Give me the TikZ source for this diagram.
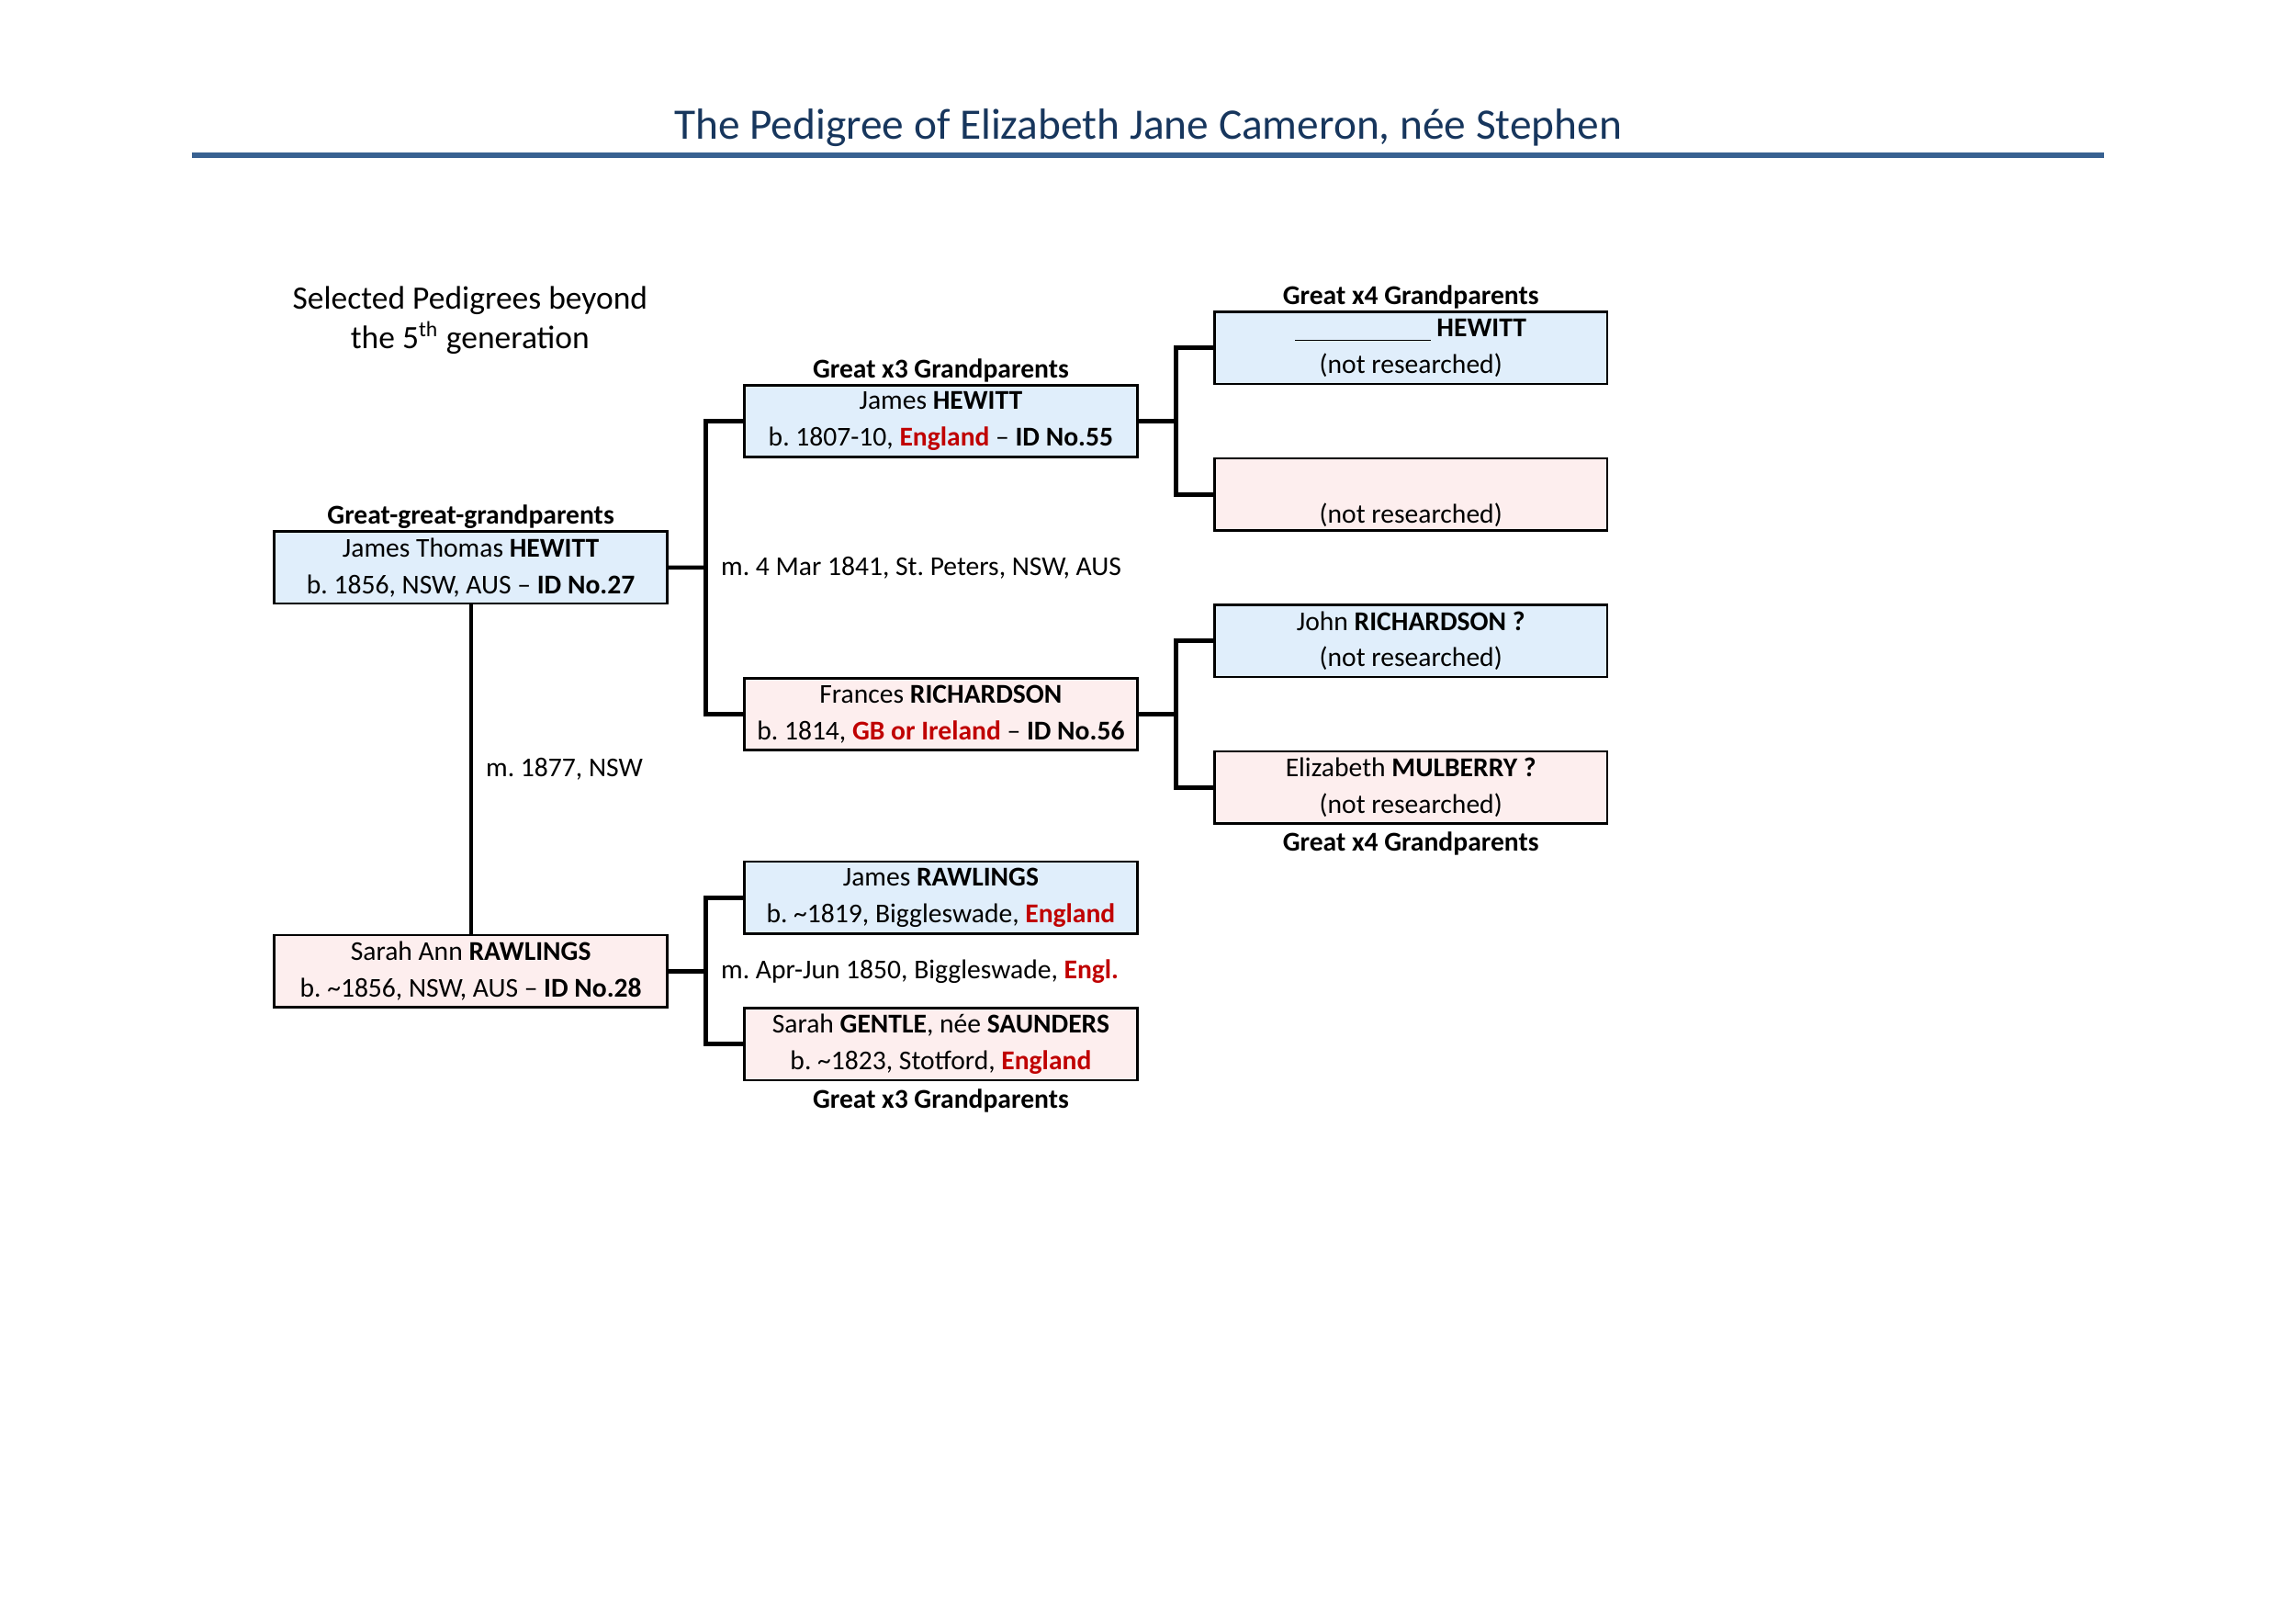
\documentclass[tikz,border=0pt]{standalone}
\usepackage{fontspec}
\setmainfont{Carlito}
\usepackage{tikz}
\usetikzlibrary{positioning,calc}
\definecolor{malefill}{RGB}{224,238,251}
\definecolor{femalefill}{RGB}{253,238,238}
\definecolor{placered}{RGB}{192,0,0}
\definecolor{titleblue}{RGB}{23,54,93}
\definecolor{ruleblue}{RGB}{56,97,145}
\newcommand{\surnm}[1]{\textbf{#1}}
\newcommand{\redplace}[1]{\textcolor{placered}{\textbf{#1}}}
\frenchspacing

\begin{document}
\begin{tikzpicture}[
  node distance=0.965cm and 1cm,
  person/.style={draw,line width=0.9pt,minimum width=5.08cm,minimum height=0.93cm,
                 outer sep=0pt,inner xsep=2pt,inner ysep=0pt,align=center,
                 font=\fontsize{10}{13.4}\selectfont},
  male/.style={person,fill=malefill},
  female/.style={person,fill=femalefill},
  gen/.style={font=\fontsize{10}{13.4}\selectfont\bfseries,inner sep=1pt},
  wed/.style={font=\fontsize{10}{13.4}\selectfont,anchor=west,inner sep=0pt},
  link/.style={line width=1.6pt}]
\useasboundingbox (0,0) rectangle (29.7,-21);
% heading
\node[font=\fontsize{16}{19}\selectfont,text=titleblue] (title) at (14.85,-1.65)
  {The Pedigree of Elizabeth Jane Cameron, née Stephen};
\draw[ruleblue,line width=2.2pt] (2.48,-2.01) -- (27.22,-2.01);
\node[align=center,font=\fontsize{12}{14.7}\selectfont] (intro) at (6.08,-4.14)
  {Selected Pedigrees beyond\\the 5\textsuperscript{th} generation};
% generation 5
\node[male] (jth) at (6.09,-7.34) {James Thomas \surnm{HEWITT}\\b. 1856, NSW, AUS -- \surnm{ID No.27}};
\node[female,below=4.29cm of jth] (sar) {Sarah Ann \surnm{RAWLINGS}\\b. \textasciitilde1856, NSW, AUS -- \surnm{ID No.28}};
% generation 6
\node[male,right=of jth,yshift=1.894cm] (jh) {James \surnm{HEWITT}\\b. 1807-10, \redplace{England} -- \surnm{ID No.55}};
\node[female,below=2.86cm of jh] (fr) {Frances \surnm{RICHARDSON}\\b. 1814, \redplace{GB or Ireland} -- \surnm{ID No.56}};
\node[male,right=of sar,yshift=0.95cm] (jr) {James \surnm{RAWLINGS}\\b. \textasciitilde1819, Biggleswade, \redplace{England}};
\node[female,below=of jr] (sg) {Sarah \surnm{GENTLE}, née \surnm{SAUNDERS}\\b. \textasciitilde1823, Stotford, \redplace{England}};
% generation 7
\node[male,right=of jh,yshift=0.947cm] (hw) {\underline{\hspace{1.75cm}} \surnm{HEWITT}\\(not researched)};
\node[female,below=of hw] (hwm) {\strut\\(not researched)};
\node[male,right=of fr,yshift=0.947cm] (jrs) {John \surnm{RICHARDSON ?}\\(not researched)};
\node[female,below=of jrs] (em) {Elizabeth \surnm{MULBERRY ?}\\(not researched)};
% generation labels
\node[gen,above=0pt of jth] (lbl5) {Great-great-grandparents};
\node[gen,above=0pt of jh] (lbl6a) {Great x3 Grandparents};
\node[gen,below=0.07cm of sg] (lbl6b) {Great x3 Grandparents};
\node[gen,above=0pt of hw] (lbl7a) {Great x4 Grandparents};
\node[gen,below=0.07cm of em] (lbl7b) {Great x4 Grandparents};
% brackets
\coordinate (k1) at ($(jth.east)!0.5!(jth.east -| jh.west)$);
\coordinate (k2) at ($(sar.east)!0.5!(sar.east -| jr.west)$);
\coordinate (k3) at ($(jh.east)!0.5!(jh.east -| hw.west)$);
\coordinate (k4) at ($(fr.east)!0.5!(fr.east -| jrs.west)$);
\draw[link] (jth.east) -- (k1);
\draw[link] (jh.west) -| (k1) |- (fr.west);
\draw[link] (sar.east) -- (k2);
\draw[link] (jr.west) -| (k2) |- (sg.west);
\draw[link] (jh.east) -- (k3);
\draw[link] (hw.west) -| (k3) |- (hwm.west);
\draw[link] (fr.east) -- (k4);
\draw[link] (jrs.west) -| (k4) |- (em.west);
\draw[line width=1.3pt] (jth.south) -- (sar.north);
% marriages
\node[wed] (m1) at ($(k1)+(0.19,0)$) {m. 4 Mar 1841, St. Peters, NSW, AUS};
\node[wed] (m2) at ($(jth.south)!0.5!(sar.north)+(0.19,0)$) {m. 1877, NSW};
\node[wed] (m3) at ($(k2)+(0.19,0)$) {m. Apr-Jun 1850, Biggleswade, \redplace{Engl.}};
\end{tikzpicture}
\end{document}
